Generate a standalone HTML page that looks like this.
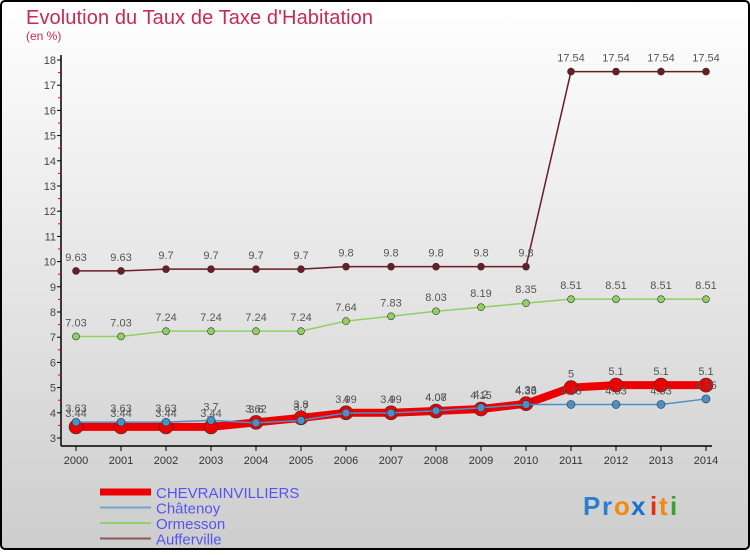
<!DOCTYPE html>
<html><head><meta charset="utf-8"><style>
body{margin:0;width:750px;height:550px;overflow:hidden;font-family:"Liberation Sans",sans-serif}
svg text{font-family:"Liberation Sans",sans-serif}
</style></head><body>
<svg id="c" width="750" height="550" xmlns="http://www.w3.org/2000/svg">
<defs><linearGradient id="bg" x1="0" y1="0" x2="0" y2="1"><stop offset="0" stop-color="#ffffff"/><stop offset="1" stop-color="#cdcdcd"/></linearGradient></defs>
<rect x="1" y="1" width="748" height="548" rx="4" fill="url(#bg)" stroke="#000" stroke-width="2"/>
<text x="26" y="24" font-size="20" fill="#c8285a" textLength="347">Evolution du Taux de Taxe d'Habitation</text>
<text x="26" y="40" font-size="12" fill="#c8285a">(en %)</text>
<g id="axes"></g><g id="series"></g><g id="legend"></g>
<g font-size="26" font-weight="bold">
<text x="583" y="515" fill="#2a7fd0">P</text><text x="602" y="515" fill="#2a7fd0">r</text><text x="614" y="515" fill="#f08a10">o</text><text x="631" y="515" fill="#1a6fd0">x</text><text x="650" y="515" fill="#e03010">i</text><text x="659" y="515" fill="#f08a10">t</text><text x="670" y="515" fill="#3aa030">i</text>
</g>
</svg>
<script>
const years=[2000,2001,2002,2003,2004,2005,2006,2007,2008,2009,2010,2011,2012,2013,2014];
const chevrain=[3.44,3.44,3.44,3.44,3.62,3.8,4,4,4.07,4.15,4.36,5,5.1,5.1,5.1];
const chatenoy=[3.63,3.63,3.63,3.7,3.6,3.7,3.99,3.99,4.08,4.2,4.33,4.33,4.33,4.33,4.55];
const ormesson=[7.03,7.03,7.24,7.24,7.24,7.24,7.64,7.83,8.03,8.19,8.35,8.51,8.51,8.51,8.51];
const aufferville=[9.63,9.63,9.7,9.7,9.7,9.7,9.8,9.8,9.8,9.8,9.8,17.54,17.54,17.54,17.54];
const yTicks=[3,4,5,6,7,8,9,10,11,12,13,14,15,16,17,18];
const NS="http://www.w3.org/2000/svg";
const xs=i=>76+i*45;
const ys=v=>438-(v-3)*25.2;
function mk(tag,attrs,parent){const e=document.createElementNS(NS,tag);for(const k in attrs)e.setAttribute(k,attrs[k]);parent.appendChild(e);return e;}
const axes=document.getElementById('axes');
let yl=mk('line',{x1:61,y1:55,x2:61,y2:446,stroke:'#000','stroke-width':1.5},axes);


let xl=mk('line',{x1:61,y1:446,x2:712,y2:446,stroke:'#000','stroke-width':1.5},axes);


yTicks.forEach(v=>{
  mk('line',{x1:57,y1:ys(v),x2:61,y2:ys(v),stroke:'#000'},axes);
  if(v<18)mk('line',{x1:58,y1:ys(v+0.5),x2:61,y2:ys(v+0.5),stroke:'#e00'},axes);
  const t=mk('text',{x:56,y:ys(v)+4,'font-size':11,fill:'#444','text-anchor':'end'},axes);
  t.textContent=v;
  
  
});
years.forEach((y,i)=>{
  mk('line',{x1:xs(i),y1:446,x2:xs(i),y2:451,stroke:'#000'},axes);
  const t=mk('text',{x:xs(i),y:464,'font-size':11,fill:'#333','text-anchor':'middle'},axes);
  t.textContent=y;
  
  
});
const sg=document.getElementById('series');
function draw(vals,color,w,r,name){
  const g=mk('g',{},sg);
  
  
  mk('polyline',{points:vals.map((v,i)=>xs(i)+','+ys(v)).join(' '),fill:'none',stroke:color,'stroke-width':w,'stroke-linejoin':'round'},g);
  vals.forEach((v,i)=>{
    const c=mk('circle',{cx:xs(i),cy:ys(v),r:r,fill:color,stroke:'#333','stroke-width':0.6},g);
    
    
    const t=mk('text',{x:xs(i),y:ys(v)-10,'font-size':11,fill:'#555','text-anchor':'middle'},g);
    t.textContent=v;
  });
}
draw(aufferville,'#6b1d24',1.5,3.5,'aufferville');
draw(ormesson,'#8fd060',1.5,3.5,'ormesson');
draw(chevrain,'#ee0000',8,7,'chevrainvilliers');
draw(chatenoy,'#4a90c8',1.5,4,'chatenoy');
const lg=document.getElementById('legend');
[['CHEVRAINVILLIERS','#ee0000',7],['Châtenoy','#6fa8cc',2],['Ormesson','#90d070',2],['Aufferville','#8a5a5a',2]].forEach((d,i)=>{
  const y=492+i*15.5;
  const g=mk('g',{},lg);
  
  
  mk('line',{x1:100,y1:y,x2:151,y2:y,stroke:d[1],'stroke-width':d[2]},g);
  const t=mk('text',{x:156,y:y+6,'font-size':15,fill:'#5555ee'},g);
  t.textContent=d[0];
});
</script>
</body></html>
